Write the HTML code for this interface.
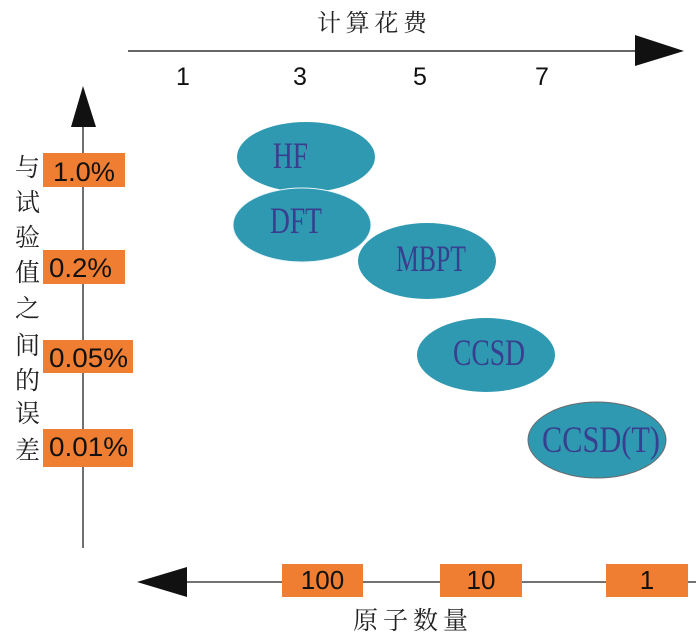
<!DOCTYPE html>
<html>
<head>
<meta charset="utf-8">
<style>
  html, body { margin:0; padding:0; background:#fff; }
  svg { display:block; }
</style>
</head>
<body>
<svg width="700" height="641" viewBox="0 0 700 641" xmlns="http://www.w3.org/2000/svg">
  <rect x="0" y="0" width="700" height="641" fill="#ffffff"/>

  <!-- Top axis -->
  <text x="317" y="31" textLength="110" lengthAdjust="spacing" font-family="'Liberation Serif','Noto Serif CJK SC',serif" font-size="24" fill="#222">计算花费</text>
  <line x1="128" y1="51" x2="637" y2="51" stroke="#333" stroke-width="1.4"/>
  <polygon points="635,35 684,51 635,66" fill="#111"/>
  <g font-family="'Liberation Sans',sans-serif" font-size="25" fill="#111" text-anchor="middle">
    <text x="183" y="85">1</text>
    <text x="300" y="85">3</text>
    <text x="420" y="85">5</text>
    <text x="542" y="85">7</text>
  </g>

  <!-- Left axis -->
  <line x1="83" y1="125" x2="83" y2="548" stroke="#333" stroke-width="1.4"/>
  <polygon points="71,127 96,127 83,86" fill="#111"/>

  <g font-family="'Liberation Serif','Noto Serif CJK SC',serif" font-size="25" fill="#222" text-anchor="middle">
    <text x="27.5" y="176">与</text>
    <text x="27.5" y="211">试</text>
    <text x="27.5" y="246">验</text>
    <text x="27.5" y="281">值</text>
    <text x="27.5" y="317">之</text>
    <text x="27.5" y="354">间</text>
    <text x="27.5" y="389">的</text>
    <text x="27.5" y="422">误</text>
    <text x="27.5" y="459">差</text>
  </g>

  <g fill="#f07e32">
    <rect x="43" y="153" width="82" height="34"/>
    <rect x="43" y="250" width="82" height="34"/>
    <rect x="43" y="340" width="90" height="33"/>
    <rect x="43" y="429" width="90" height="38"/>
  </g>
  <g font-family="'Liberation Sans',sans-serif" font-size="27" fill="#111">
    <text x="53" y="181" textLength="62" lengthAdjust="spacingAndGlyphs">1.0%</text>
    <text x="49" y="277" textLength="63" lengthAdjust="spacingAndGlyphs">0.2%</text>
    <text x="49" y="367" textLength="79" lengthAdjust="spacingAndGlyphs">0.05%</text>
    <text x="49" y="456" textLength="79" lengthAdjust="spacingAndGlyphs">0.01%</text>
  </g>

  <!-- Ellipses -->
  <g fill="#2f99b2">
    <ellipse cx="306" cy="157" rx="69" ry="35"/>
    <ellipse cx="302" cy="225" rx="69" ry="37" stroke="#e8f4f7" stroke-width="1"/>
    <ellipse cx="427" cy="261" rx="69" ry="38"/>
    <ellipse cx="486" cy="355" rx="69" ry="37"/>
    <ellipse cx="597" cy="440" rx="69" ry="38" stroke="#6a6a6a" stroke-width="1"/>
  </g>
  <g font-family="'Liberation Serif',serif" font-size="37" fill="#383f8e">
    <text x="273" y="168" textLength="35" lengthAdjust="spacingAndGlyphs">HF</text>
    <text x="270" y="233" textLength="52" lengthAdjust="spacingAndGlyphs">DFT</text>
    <text x="396" y="271" textLength="70" lengthAdjust="spacingAndGlyphs">MBPT</text>
    <text x="453" y="365" textLength="72" lengthAdjust="spacingAndGlyphs">CCSD</text>
    <text x="542" y="452" textLength="118" lengthAdjust="spacingAndGlyphs">CCSD(T)</text>
  </g>

  <!-- Bottom axis -->
  <line x1="185" y1="582" x2="696" y2="582" stroke="#444" stroke-width="1.4"/>
  <polygon points="137,582 187,567 187,597" fill="#111"/>
  <g fill="#f07e32">
    <rect x="282" y="564" width="81" height="33"/>
    <rect x="440" y="564" width="82" height="33"/>
    <rect x="606" y="564" width="82" height="33"/>
  </g>
  <g font-family="'Liberation Sans',sans-serif" font-size="26" fill="#111" text-anchor="middle">
    <text x="322.5" y="589">100</text>
    <text x="481" y="589">10</text>
    <text x="647" y="589">1</text>
  </g>
  <text x="353" y="629" textLength="115" lengthAdjust="spacing" font-family="'Liberation Serif','Noto Serif CJK SC',serif" font-size="25" fill="#222">原子数量</text>
</svg>
</body>
</html>
